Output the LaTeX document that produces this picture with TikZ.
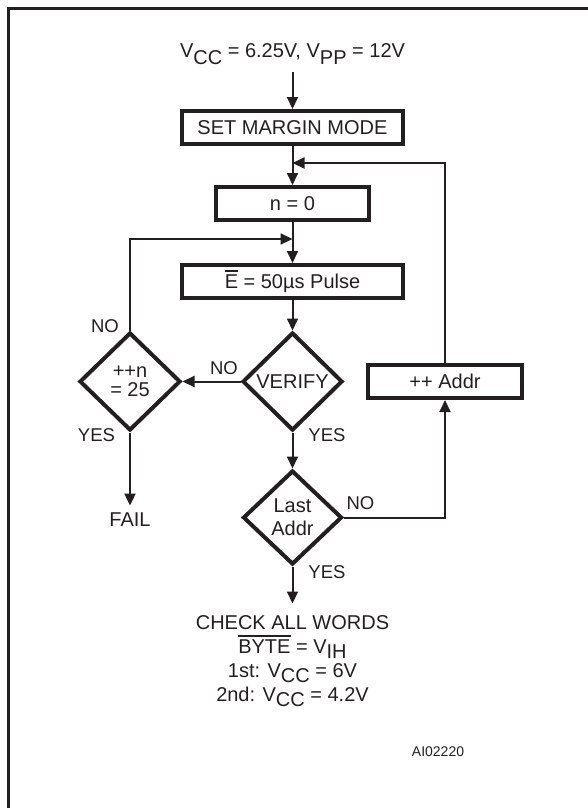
\documentclass[tikz,border=0pt]{standalone}
\usepackage{fontspec}
\setmainfont{Liberation Sans}
\usetikzlibrary{arrows.meta, shapes.geometric}

\definecolor{ink}{RGB}{35,31,32}
\newcommand{\lo}[1]{\raisebox{-0.32em}{#1}}
\newcommand{\low}[1]{\raisebox{-0.24em}{#1}}
\newcommand{\ovl}[1]{\vbox{\hrule height 1.6pt\kern 3pt\hbox{#1}}}

\begin{document}
\begin{tikzpicture}[
    x=1pt, y=-1pt,
    >={Triangle[length=12pt, width=11pt]},
    every node/.style={text=ink, font=\fontsize{20}{24}\selectfont},
    stepbox/.style={draw=ink, line width=4pt, inner sep=0pt, minimum height=33pt},
    test/.style={draw=ink, diamond, line width=4pt, inner sep=0pt, align=center},
    flow/.style={draw=ink, line width=2pt, ->},
    lbl/.style={font=\fontsize{18.5}{22}\selectfont},
]
  \useasboundingbox (0,0) rectangle (587,808);
  \draw[ink, line width=3pt] (8.5,8.5) rectangle (640,860);

  \node[anchor=base] (supply) at (292.5,58) {V\lo{CC} = 6.25V, V\lo{PP} = 12V};
  \node[stepbox, minimum width=221pt] (setmode) at (292.5,127.5) {SET MARGIN MODE};
  \node[stepbox, minimum width=153pt] (reset) at (292.5,203.5) {n = 0};
  \node[stepbox, minimum width=221pt] (pulse) at (292.5,281.5) {\ovl{E} = 50µs Pulse};
  \node[test, minimum width=100pt, minimum height=98pt] (verify) at (292.5,381.5) {VERIFY};
  \node[test, minimum width=101pt, minimum height=98pt,
        font=\fontsize{20}{19.5}\selectfont] (count) at (130,381.5) {++n\\= 25};
  \node[stepbox, minimum width=154pt] (nextaddr) at (445,381.5) {++ Addr};
  \node[test, minimum width=99pt, minimum height=94pt,
        font=\fontsize{20}{23}\selectfont] (last) at (292.5,517.5) {Last\\Addr};
  \node (fail) at (130,520) {FAIL};
  \node[align=center, anchor=north, inner sep=0pt] (check) at (292.5,615.5)
    {CHECK ALL WORDS\\\ovl{BYTE} = V\low{IH}\\1st: V\low{CC} = 6V\\2nd: V\low{CC} = 4.2V};
  \node[font=\fontsize{14}{16}\selectfont] (code) at (438,752) {AI02220};

  % branch labels
  \node[lbl] (countno) at (105,326) {NO};
  \node[lbl] (verifyno) at (224,368) {NO};
  \node[lbl] (countyes) at (96.5,435) {YES};
  \node[lbl] (verifyyes) at (327,435) {YES};
  \node[lbl] (lastno) at (360.5,503.5) {NO};
  \node[lbl] (lastyes) at (327,572) {YES};

  \coordinate (entry) at (292.5,163);
  \coordinate (retry) at (292.5,239);

  \draw[flow, shorten <=4pt] (supply.south) -- (setmode.north);
  \foreach \i/\j in {setmode/reset, reset/pulse, pulse/verify, verify/count, verify/last}
    \draw[flow] (\i) -- (\j);
  \draw[flow] (nextaddr.north) |- (entry);
  \draw[flow] (count.north) |- (retry);
  \draw[flow] (last.east) -| (nextaddr.south);
  \draw[flow, shorten >=4pt] (count.south) -- (fail.north);
  \draw[flow, shorten >=12pt] (last.south) -- (check.north);
\end{tikzpicture}
\end{document}
